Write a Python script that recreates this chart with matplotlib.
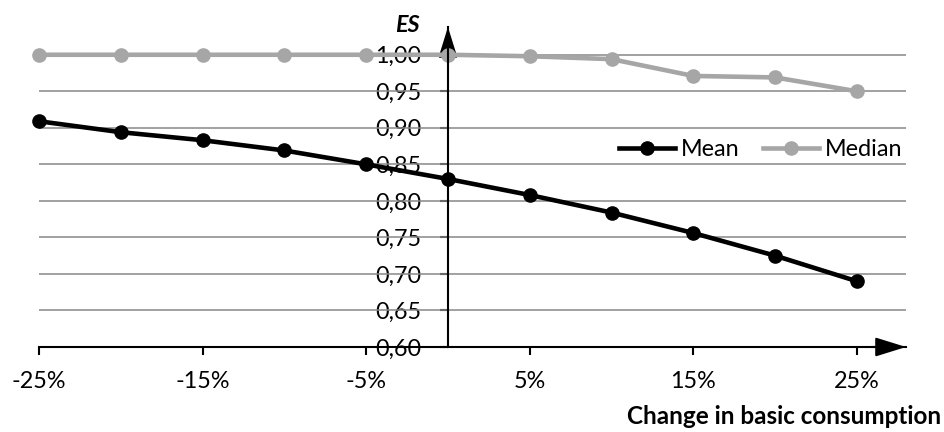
import matplotlib
matplotlib.use("Agg")
import matplotlib.pyplot as plt

# change in basic consumption (%), and the ES values
changes = [-25, -20, -15, -10, -5, 0, 5, 10, 15, 20, 25]
mean_es = [0.909, 0.894, 0.883, 0.869, 0.850, 0.830, 0.808, 0.784, 0.756, 0.725, 0.690]
median_es = [1.000, 1.000, 1.000, 1.000, 1.000, 1.000, 0.998, 0.994, 0.971, 0.969, 0.950]

x_ticks = [-25, -15, -5, 5, 15, 25]
x_tick_labels = ["-25%", "-15%", "-5%", "5%", "15%", "25%"]
y_ticks = [0.60, 0.65, 0.70, 0.75, 0.80, 0.85, 0.90, 0.95, 1.00]
y_tick_labels = [f"{v:.2f}".replace(".", ",") for v in y_ticks]

plt.rcParams["font.family"] = ["Lato", "DejaVu Sans"]
FS = 16.8
W, H = 945, 432

fig = plt.figure(figsize=(W / 100, H / 100), dpi=100)
# axes box in pixels: x from 39 to 906, y from 27 (top) to 347 (bottom)
ax = fig.add_axes([39 / W, (H - 347) / H, 867 / W, 320 / H])
ax.set_xlim(-25, 28)
ax.set_ylim(0.60, 1.038)

for v in y_ticks[1:]:
    ax.axhline(v, color="#888888", lw=1.1, zorder=3)

ax.plot(changes, mean_es, color="black", lw=3.3, marker="o", ms=9.5,
        label="Mean", zorder=5, clip_on=False)
ax.plot(changes, median_es, color="#a6a6a6", lw=3.3, marker="o", ms=9.5,
        label="Median", zorder=4, clip_on=False)

for side in ["top", "right"]:
    ax.spines[side].set_visible(False)
ax.spines["left"].set_position(("data", 0))
ax.spines["left"].set_zorder(6)
ax.spines["bottom"].set_zorder(6)
for side in ["left", "bottom"]:
    ax.spines[side].set_linewidth(1.5)

# arrow heads on both axes
arrow = dict(arrowstyle="-|>,head_length=1.35,head_width=0.42", color="black",
             lw=1.5, mutation_scale=14, shrinkA=0, shrinkB=0)
ax.annotate("", xy=(1, 0), xytext=(0.96, 0), xycoords="axes fraction",
            arrowprops=arrow, zorder=7)
ax.annotate("", xy=(0, 1.038), xytext=(0, 1.0), xycoords="data",
            arrowprops=arrow, zorder=3.5, annotation_clip=False)

ax.set_xticks(x_ticks)
ax.set_xticklabels(x_tick_labels)
ax.set_yticks(y_ticks)
ax.set_yticklabels(y_tick_labels)
ax.tick_params(axis="x", direction="out", length=6, width=1.5, pad=11, labelsize=FS)
ax.tick_params(axis="y", direction="out", length=6, width=1.5, pad=13, labelsize=FS)

ax.text(407 / W, 1 - 26 / H, "ES", transform=fig.transFigure, ha="center",
        va="center", fontsize=FS, fontweight="bold", fontstyle="italic")
fig.text(941 / W, 1 - 417 / H, "Change in basic consumption", ha="right",
         va="center", fontsize=17.5, fontweight="bold")

ax.legend(loc="center right", bbox_to_anchor=(902 / W, 1 - 150 / H),
          bbox_transform=fig.transFigure, frameon=False, ncol=2,
          fontsize=FS, handlelength=2.4, handletextpad=0.25,
          columnspacing=1.0, borderpad=0, borderaxespad=0)

fig.savefig("out.png", dpi=100)
